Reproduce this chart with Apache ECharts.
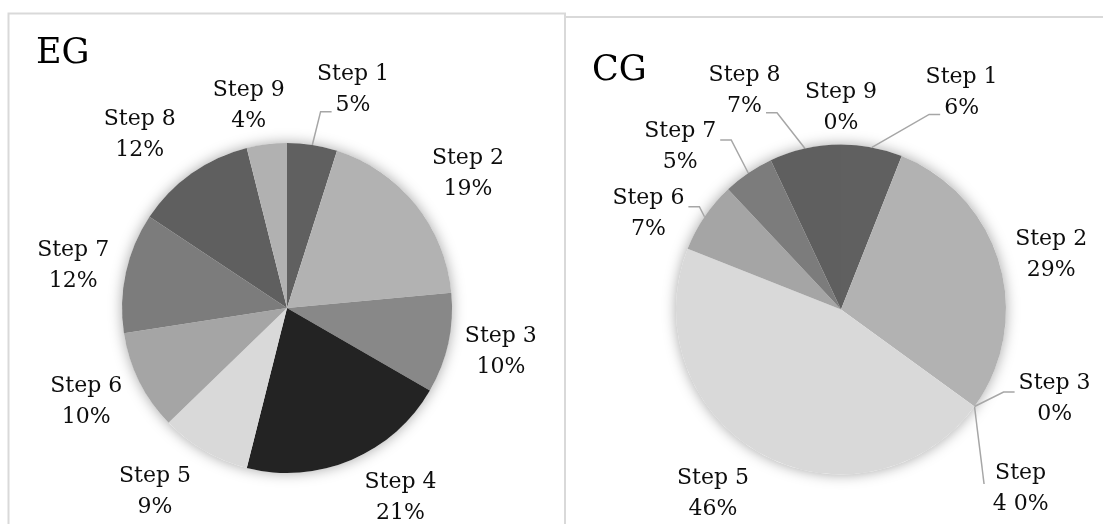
<!DOCTYPE html>
<html>
<head>
<meta charset="utf-8">
<script src="https://cdn.jsdelivr.net/npm/echarts@6/dist/echarts.min.js"></script>
<style>
  html, body { margin: 0; padding: 0; background: #ffffff; }
  #chart { width: 1103px; height: 524px; }
</style>
</head>
<body>
<div id="chart"></div>
<script>
// Share of each step, in percent, for the two groups
const STEPS = ['Step 1', 'Step 2', 'Step 3', 'Step 4', 'Step 5', 'Step 6', 'Step 7', 'Step 8', 'Step 9'];
const EG_VALUES = [5, 19, 10, 21, 9, 10, 12, 12, 4];
const CG_VALUES = [6, 29, 0, 0, 46, 7, 5, 7, 0];
const GROUP_TITLES = ['EG', 'CG'];

// Greyscale palette, one shade per step
const SLICE_COLORS = ['#606060', '#b2b2b2', '#888888', '#232323', '#d9d9d9', '#a5a5a5', '#7c7c7c', '#5f5f5f', '#b1b1b1'];

const FONT = '"DejaVu Serif", serif';
const LABEL_SIZE = 22;
const LABEL_LH = 31;
const LABEL_DIST = 222;   // distance of a label from the pie centre, along the slice's middle

// Per-panel placement: pie geometry, label nudges, which labels get a leader line,
// and which label wraps its name over two lines
const PANELS = [
  {
    cx: 287, cy: 308, r: 165,
    shift: [[32, 1], [8, 5], [-3, -4], [27, -15], [-21, -8], [-2, -5], [3, 5], [-19, 8], [-11, 18]],
    leader: [1, 0, 0, 0, 0, 0, 0, 0, 0],
    wrap: [0, 0, 0, 0, 0, 0, 0, 0, 0],
    title: { left: 36, top: 36 }
  },
  {
    cx: 841, cy: 309.5, r: 165,
    shift: [[79, 1], [-3, 7], [34, -41], [0, 49], [-21, -10], [-9, 29], [-36, 21], [-48, -2], [0, 20]],
    leader: [1, 0, 1, 1, 0, 1, 1, 1, 0],
    wrap: [0, 0, 0, 1, 0, 0, 0, 0, 0],
    title: { left: 592, top: 53 }
  }
];

const measureCtx = document.createElement('canvas').getContext('2d');
measureCtx.font = LABEL_SIZE + 'px ' + FONT;

function labelText(name, value, wrap) {
  return wrap ? name.replace(' ', '\n') + ' ' + value + '%' : name + '\n' + value + '%';
}

// Leader line from the slice's outer edge to the side of its label
function leaderPoints(edge, lx, ly, w1, w2) {
  const side = edge[0] < lx ? -1 : 1;
  if (edge[1] < ly - 30) {
    // label sits below the slice: a single straight stroke to its first line
    return [edge, [lx + side * (w1 / 2 + 11), ly - 5]];
  }
  const below = edge[1] > ly + 30;
  const ay = below ? ly + 22 : ly - 7;
  const lw = below ? w2 : w1;
  const ax = lx + side * (lw / 2 + 4);
  return [edge, [ax + side * 11, ay], [ax, ay]];
}

function pieSeries(values, lay) {
  const total = values.reduce((a, b) => a + b, 0);
  const mids = [];
  let acc = 0;
  values.forEach(v => { mids.push((acc + v / 2) / total * 2 * Math.PI); acc += v; });

  return {
    type: 'pie',
    center: [lay.cx, lay.cy],
    radius: lay.r,
    startAngle: 90,
    clockwise: true,
    avoidLabelOverlap: false,
    silent: true,
    z: 3,
    itemStyle: { borderWidth: 0 },
    label: {
      show: true,
      position: 'outside',
      fontFamily: FONT,
      fontSize: LABEL_SIZE,
      lineHeight: LABEL_LH,
      color: '#0d0d0d',
      formatter: p => labelText(p.name, p.value, lay.wrap[p.dataIndex])
    },
    labelLine: { show: false, smooth: false, lineStyle: { color: '#a6a6a6', width: 1.5 } },
    emphasis: { disabled: true },
    data: STEPS.map((name, i) => ({
      name: name,
      value: values[i],
      itemStyle: { color: SLICE_COLORS[i] },
      labelLine: { show: !!lay.leader[i] }
    })),
    labelLayout: params => {
      const i = params.dataIndex;
      const t = mids[i];
      const ux = Math.sin(t), uy = -Math.cos(t);
      const lx = lay.cx + LABEL_DIST * ux + lay.shift[i][0];
      const ly = lay.cy + LABEL_DIST * uy + lay.shift[i][1];
      const out = { x: lx, y: ly, align: 'center', verticalAlign: 'middle' };
      if (lay.leader[i]) {
        const lines = labelText(STEPS[i], values[i], lay.wrap[i]).split('\n');
        const w1 = measureCtx.measureText(lines[0]).width;
        const w2 = measureCtx.measureText(lines[1]).width;
        const edge = [lay.cx + lay.r * ux, lay.cy + lay.r * uy];
        out.labelLinePoints = leaderPoints(edge, lx, ly, w1, w2);
      }
      return out;
    }
  };
}

// White disc under each pie that carries the soft drop shadow
function shadowSeries(lay) {
  return {
    type: 'pie',
    center: [lay.cx, lay.cy],
    radius: lay.r,
    silent: true,
    z: 1,
    label: { show: false },
    labelLine: { show: false },
    emphasis: { disabled: true },
    data: [{ value: 1, name: '', itemStyle: { color: '#ffffff', shadowBlur: 14, shadowColor: 'rgba(0,0,0,0.35)' } }]
  };
}

const chart = echarts.init(document.getElementById('chart'), null, { renderer: 'canvas' });

chart.setOption({
  animation: false,
  backgroundColor: '#ffffff',
  title: GROUP_TITLES.map((t, k) => ({
    text: t,
    left: PANELS[k].title.left,
    top: PANELS[k].title.top,
    padding: 0,
    textStyle: { fontFamily: FONT, fontSize: 35, fontWeight: 'normal', color: '#000000' }
  })),
  graphic: [
    { type: 'rect', z: 0, silent: true, shape: { x: 8.5, y: 13.5, width: 556.5, height: 620 },
      style: { fill: 'none', stroke: '#d9d9d9', lineWidth: 2 } },
    { type: 'rect', z: 0, silent: true, shape: { x: 565, y: 17, width: 620, height: 620 },
      style: { fill: 'none', stroke: '#d9d9d9', lineWidth: 2 } }
  ],
  series: [
    shadowSeries(PANELS[0]),
    pieSeries(EG_VALUES, PANELS[0]),
    shadowSeries(PANELS[1]),
    pieSeries(CG_VALUES, PANELS[1])
  ]
});
</script>
</body>
</html>
